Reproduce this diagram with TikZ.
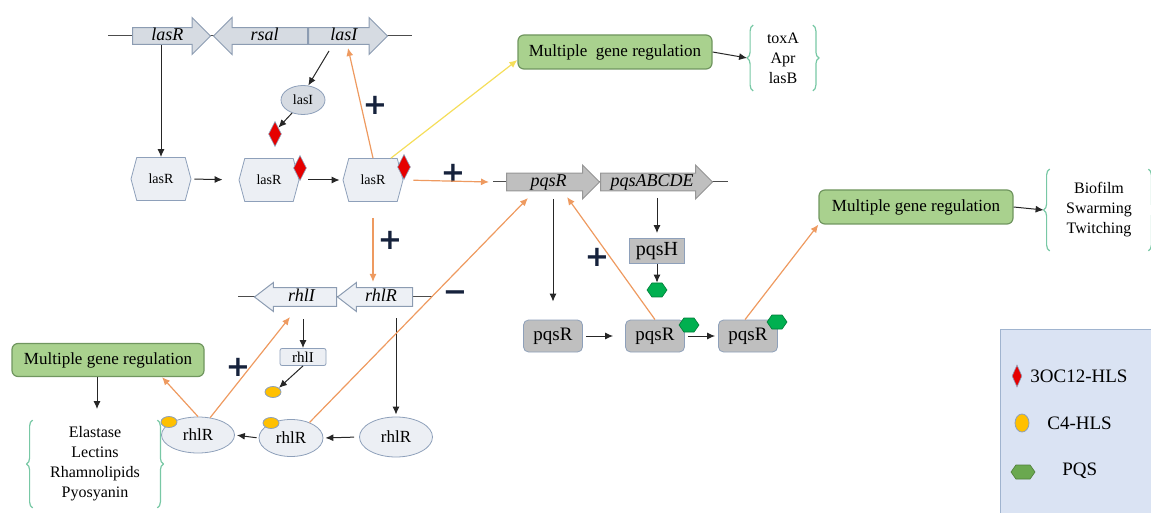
\documentclass[tikz,border=0pt]{standalone}
\usepackage{fontspec}
\setmainfont{Liberation Serif}
\newfontfamily\signfont{DejaVu Sans}
\usepackage{xcolor}
\usepackage{tikz}
\usetikzlibrary{arrows.meta,shapes.arrows,shapes.symbols,shapes.geometric,decorations.pathreplacing}

\definecolor{geneblue}{RGB}{214,219,226}
\definecolor{geneedge}{RGB}{140,156,178}
\definecolor{pqsgray}{RGB}{191,191,191}
\definecolor{pqsedge}{RGB}{150,150,150}
\definecolor{rhlfill}{RGB}{237,240,245}
\definecolor{protfill}{RGB}{236,239,244}
\definecolor{protedge}{RGB}{142,160,186}
\definecolor{regfill}{RGB}{169,209,142}
\definecolor{regedge}{RGB}{112,150,95}
\definecolor{bracecol}{RGB}{120,200,165}
\definecolor{actline}{RGB}{238,154,96}
\definecolor{yelline}{RGB}{245,222,90}
\definecolor{signcol}{RGB}{22,34,60}
\definecolor{hslred}{RGB}{230,0,0}
\definecolor{chlyel}{RGB}{255,192,0}
\definecolor{pqsgreen}{RGB}{0,176,80}
\definecolor{keygreen}{RGB}{106,168,79}
\definecolor{legfill}{RGB}{218,227,243}
\definecolor{legedge}{RGB}{160,180,207}

\tikzset{
  gene/.style={single arrow, draw=geneedge, fill=geneblue, line width=0.5pt,
    inner sep=0pt, text height=6pt, text depth=1.5pt,
    font=\fontsize{9}{9}\selectfont\itshape,
    minimum width=18.5pt, single arrow head extend=4.75pt},
  pqsgene/.style={gene, fill=pqsgray, draw=pqsedge, minimum width=17pt, single arrow head extend=3.75pt},
  rhlgene/.style={gene, fill=rhlfill, minimum width=14.5pt, single arrow head extend=2.25pt, single arrow tip angle=75},
  leftgene/.style={shape border rotate=180},
  dna/.style={draw=black!70, line width=0.5pt},
  hexprot/.style={signal, signal to=east and west, signal pointer angle=150, draw=protedge, fill=protfill,
    minimum width=30pt, minimum height=21.5pt, inner sep=0pt, font=\fontsize{7}{7}\selectfont},
  ahl/.style={diamond, fill=hslred, draw=protedge, line width=0.3pt, minimum width=6.5pt, minimum height=12.5pt, inner sep=0pt},
  c4/.style={ellipse, fill=chlyel, draw=protedge, line width=0.4pt, minimum width=8pt, minimum height=5.5pt, inner sep=0pt},
  pqs/.style={signal, signal to=east and west, signal pointer angle=110, fill=pqsgreen, draw=pqsgreen!70!black,
    line width=0.3pt, minimum width=10pt, minimum height=7pt, inner sep=0pt},
  pqsbox/.style={rectangle, rounded corners=2.5pt, fill=pqsgray, draw=protedge, minimum width=29.5pt, minimum height=16pt,
    inner sep=0pt, font=\fontsize{9.5}{9.5}\selectfont},
  rhlell/.style={ellipse, fill=protfill, draw=protedge, inner sep=0pt, font=\fontsize{8.5}{8.5}\selectfont},
  regbox/.style={rectangle, rounded corners=3pt, fill=regfill, draw=regedge, line width=0.6pt, minimum width=97pt,
    minimum height=17pt, font=\fontsize{8.5}{8.5}\selectfont},
  outlist/.style={align=center, inner sep=0pt, font=\fontsize{8}{10}\selectfont},
  curly/.style={draw=bracecol, line width=0.6pt, decorate, decoration={brace, amplitude=3pt}},
  blk/.style={draw=black!85, line width=0.5pt, -{Latex[length=4pt,width=3.5pt]}},
  act/.style={draw=actline, line width=0.6pt, -{Latex[length=4pt,width=3.5pt]}},
  sign/.style={text=signcol, inner sep=0pt, font=\signfont\bfseries\fontsize{14.5}{14.5}\selectfont},
  keytext/.style={anchor=west, inner sep=0pt, font=\fontsize{9.5}{9.5}\selectfont},
}

\begin{document}
\begin{tikzpicture}[x=0.5pt, y=-0.5pt]
\useasboundingbox (0,0) rectangle (1151,513);
\clip (0,0) rectangle (1151,513);

% las
\coordinate (lasL) at (108,36);
\coordinate (lasE) at (412,36);
\draw[dna] (lasL) -- (lasE);
\node[gene, minimum height=39pt, anchor=tail] (lasRg) at (132,36) {lasR};
\node[gene, leftgene, minimum height=47pt, anchor=tail] (rsalg) at (308,36) {rsal};
\node[gene, minimum height=39.5pt, anchor=tail] (lasIg) at (308,36) {lasI};
\node[ellipse, fill=geneblue, draw=protedge, minimum width=22pt, minimum height=14.5pt, inner sep=0pt,
  font=\fontsize{7}{7}\selectfont] (lasIe) at (303,100) {lasI};
\node[ahl] (ahlA) at (275,134) {};
\node[hexprot] (hexA) at (161,179) {lasR};
\node[hexprot] (hexB) at (269,180) {lasR};
\node[hexprot] (hexC) at (373,180) {lasR};
\node[ahl] (ahlB) at (300,168) {};
\node[ahl] (ahlC) at (404,167) {};

% pqs
\coordinate (pqsL) at (493,182);
\coordinate (pqsE) at (728,182);
\draw[dna] (pqsL) -- (pqsE);
\node[pqsgene, minimum height=46.5pt, anchor=tail] (pqsRg) at (506,182) {pqsR};
\node[pqsgene, minimum height=56pt, anchor=tail] (pqsAg) at (600,182) {pqsABCDE};
\node[rectangle, fill=pqsgray, draw=protedge, minimum width=27.5pt, minimum height=12.5pt, inner sep=0pt,
  font=\fontsize{10}{10}\selectfont] (pqsH) at (657,251) {pqsH};
\node[pqs] (pqsfree) at (657,290) {};
\node[pqsbox] (pqsA) at (553,336) {pqsR};
\node[pqsbox] (pqsB) at (655,336) {pqsR};
\node[pqsbox] (pqsC) at (748,336) {pqsR};
\node[pqs] (pqsBm) at (689,325) {};
\node[pqs] (pqsCm) at (777,322) {};

% rhl
\coordinate (rhlL) at (238,297);
\coordinate (rhlE) at (433,297);
\draw[dna] (rhlL) -- (rhlE);
\node[rhlgene, leftgene, minimum height=41pt, anchor=tail] (rhlIg) at (337,297) {rhlI};
\node[rhlgene, leftgene, minimum height=37.5pt, anchor=tail] (rhlRg) at (413,297) {rhlR};
\node[rectangle, rounded corners=1pt, fill=protfill, draw=protedge, minimum width=23pt, minimum height=8.5pt,
  inner sep=0pt, font=\fontsize{7.5}{7.5}\selectfont] (rhlIb) at (303,357) {rhlI};
\node[c4] (c4A) at (273,392) {};
\node[rhlell, minimum width=36.5pt, minimum height=20pt] (rhlRc) at (396,437) {rhlR};
\node[rhlell, minimum width=32pt, minimum height=18.5pt] (rhlRb) at (291,438) {rhlR};
\node[rhlell, minimum width=36.5pt, minimum height=18pt] (rhlRa) at (198,435) {rhlR};
\node[c4] (c4B) at (271,423) {};
\node[c4] (c4C) at (169,422) {};

% outputs
\node[regbox] (regA) at (615,52) {Multiple\ \ gene regulation};
\node[regbox] (regB) at (916,207) {Multiple gene regulation};
\node[regbox, minimum width=96pt, minimum height=16.5pt] (regC) at (108,360) {Multiple gene regulation};
\node[outlist, minimum width=29.5pt, minimum height=32.5pt] (listA) at (783,58) {toxA\\Apr\\lasB};
\node[outlist, minimum width=49pt, minimum height=40.5pt] (listB) at (1099,210) {Biofilm\\Swarming\\Twitching};
\node[outlist, minimum width=62pt, minimum height=43.5pt] (listC) at (95,464) {Elastase\\Lectins\\Rhamnolipids\\Pyosyanin};
\foreach \lst in {listA,listB,listC}{
  \draw[curly] (\lst.south west) -- (\lst.north west);
  \draw[curly] (\lst.north east) -- (\lst.south east);
}

\node[sign] (plusA) at (375,105) {+};
\node[sign] (plusB) at (453,173) {+};
\node[sign] (plusC) at (390,240) {+};
\node[sign] (plusD) at (597,257) {+};
\node[sign] (plusE) at (238,367) {+};
\node[sign] (minusA) at (455,296) {−};

% connectors
\draw[blk] ([shift={(21,15)}]lasIg.tail) -- (lasIe.70);
\draw[blk] (lasIe.230) -- (ahlA.north east);
\draw[blk] ([shift={(29,9)}]lasRg.tail) -- (hexA.north);
\draw[blk, shorten <=1.5pt, shorten >=8pt] (hexA.east) -- (hexB.west);
\draw[blk, shorten <=4.5pt, shorten >=1.5pt] (hexB.east) -- (hexC.west);
\draw[act] (hexC.north) -- ([shift={(40,12)}]lasIg.tail);
\draw[draw=yelline, line width=0.6pt, -{Latex[length=4pt,width=3.5pt]}] ([shift={(18,0)}]hexC.north) -- ([shift={(0,8)}]regA.west);
\draw[blk] (regA.east) -- ([xshift=-3pt]listA.west);
\draw[act, shorten <=5pt] (hexC.east) -- ([shift={(-17,0)}]pqsRg.tail);
\draw[blk, shorten >=9pt] ([shift={(47,17)}]pqsRg.tail) -- (pqsA.north);
\draw[blk, shorten <=1.5pt, shorten >=6pt] (pqsA.east) -- (pqsB.west);
\draw[blk, shorten <=1.5pt, shorten >=1.5pt] (pqsB.east) -- (pqsC.west);
\draw[blk, shorten >=2.5pt] ([shift={(57,16)}]pqsAg.tail) -- (pqsH.north);
\draw[blk] (pqsH.south) -- (pqsfree.north);
\draw[act] (pqsB.north) -- ([shift={(61,15)}]pqsRg.tail);
\draw[act] ([shift={(-3,0)}]pqsC.north) -- (regB.south west);
\draw[blk] (regB.east) -- ([xshift=-3pt]listB.west);
\draw[act, shorten <=8pt] (hexC.south) -- ([shift={(-40,-15)}]rhlRg.tail);
\draw[blk] ([shift={(-34,22)}]rhlIg.tail) -- (rhlIb.north);
\draw[blk] (rhlIb.south) -- (c4A.north east);
\draw[blk, shorten >=1pt] ([shift={(-17,21)}]rhlRg.tail) -- (rhlRc.north);
\draw[blk, shorten <=2.5pt, shorten >=1pt] (rhlRc.west) -- (rhlRb.east);
\draw[blk, shorten <=1pt, shorten >=1pt] (rhlRb.west) -- (rhlRa.east);
\draw[act] (rhlRa.north) -- ([shift={(54,0)}]regC.south);
\draw[act] (rhlRa.55) -- ([shift={(-47,20)}]rhlIg.tail);
\draw[act] (rhlRb.40) -- ([shift={(22,16)}]pqsRg.tail);
\draw[blk, shorten >=5.5pt] ([shift={(-11,0)}]regC.south) -- ([shift={(2,0)}]listC.north);

% key
\draw[fill=legfill, draw=legedge] (1000,329) rectangle (1160,520);
\node[ahl, minimum width=5pt, minimum height=11pt] (keyA) at (1017,376) {};
\node[keytext] (keyAt) at (1030,376) {3OC12-HLS};
\node[c4, minimum width=7pt, minimum height=9pt] (keyB) at (1022,423) {};
\node[keytext] (keyBt) at (1047,423) {C4-HLS};
\node[pqs, fill=keygreen, draw=keygreen!75!black, minimum width=12pt, minimum height=7pt] (keyC) at (1023,472) {};
\node[keytext] (keyCt) at (1062,471) {PQS};
\end{tikzpicture}
\end{document}
